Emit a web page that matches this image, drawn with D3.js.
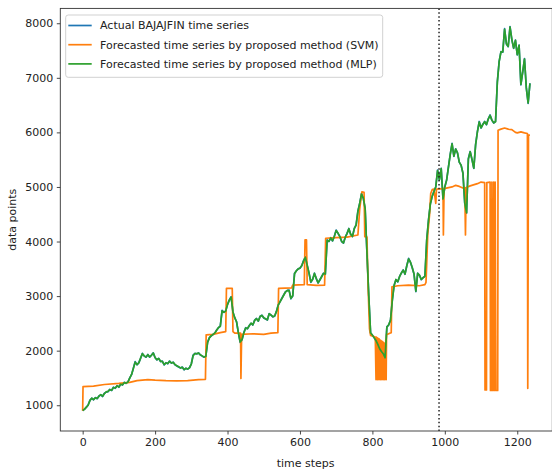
<!DOCTYPE html>
<html>
<head>
<meta charset="utf-8">
<script src="https://cdn.jsdelivr.net/npm/d3@7"></script>
<style>
  html, body { margin: 0; padding: 0; background: #fff; }
  svg { display: block; font-family: "DejaVu Sans", sans-serif; }
</style>
</head>
<body>
<div id="chart"></div>
<script>
// Sampling interval (in time steps) of the actual / MLP series
const sampleEvery = 5;

// Actual BAJAJFIN closing series, one value every 5 time steps (t = 0, 5, ..., 1235)
const actualValues = [
  900, 930, 960, 1005, 1090, 1128, 1100, 1140, 1120, 1170,
  1190, 1160, 1220, 1240, 1250, 1290, 1270, 1330, 1310, 1360,
  1330, 1390, 1370, 1420, 1400, 1430, 1500, 1560, 1680, 1800,
  1740, 1780, 1860, 1950, 1900, 1880, 1930, 1880, 1920, 1960,
  1870, 1830, 1860, 1800, 1810, 1740, 1780, 1760, 1810, 1770,
  1790, 1740, 1720, 1700, 1680, 1700, 1650, 1680, 1660, 1690,
  1760, 1920, 1950, 1940, 1960, 1920, 1900, 1880, 1900, 2160,
  2240, 2270, 2300, 2320, 2380, 2420, 2450, 2740, 2700, 2730,
  2850, 2930, 2990, 2700, 2600, 2530, 2320, 2150, 2200, 2330,
  2420, 2400, 2460, 2500, 2470, 2560, 2590, 2540, 2630, 2650,
  2600, 2580, 2560, 2680, 2650, 2620, 2630, 2720, 2840, 2900,
  2960, 3020, 3080, 3100, 3110, 2950, 3000, 3420, 3460, 3500,
  3510, 3560, 3650, 3720, 3560, 3420, 3250, 3310, 3420, 3320,
  3240, 3300, 3360, 3420, 3400, 4030, 4000, 4070, 4010, 4100,
  4210, 4150, 4090, 4000, 3970, 4080, 4150, 4240, 4130, 4090,
  4240, 4300, 4560, 4700, 4880, 4790, 4600, 3780, 3000, 2320,
  2280, 2240, 2180, 2120, 2030, 1990, 1940, 1860, 2440, 2470,
  2560, 2930, 3200, 3300, 3260, 3360, 3420, 3480, 3400, 3560,
  3690, 3620, 3520, 3400, 3080, 3420, 3380, 3300, 3340, 3360,
  4030, 4400, 4690, 4830, 4920, 5000, 5310, 5130, 5340, 4770,
  5000, 5130, 5370, 5600, 5800, 5560, 5700, 5620, 5450, 5400,
  5250, 4700, 4520, 5520, 5650, 5500, 5340, 5780, 6020, 6200,
  6080, 6150, 6200, 6140, 6250, 6320, 6220, 6170, 6200, 6930,
  7300, 7480, 7470, 7900, 7620, 7570, 7940, 7700, 7540, 7690,
  7420, 7600, 6870, 7100, 7350, 6810, 6530, 6900
];

// MLP forecast, same sampling as the actual series
const mlpValues = [
  905, 925, 965, 1000, 1085, 1130, 1105, 1135, 1125, 1165,
  1195, 1165, 1215, 1245, 1255, 1285, 1275, 1325, 1315, 1355,
  1335, 1385, 1375, 1415, 1405, 1425, 1495, 1565, 1675, 1790,
  1745, 1775, 1865, 1945, 1905, 1885, 1925, 1885, 1915, 1955,
  1875, 1835, 1855, 1805, 1805, 1745, 1775, 1765, 1805, 1775,
  1785, 1745, 1725, 1705, 1685, 1695, 1655, 1675, 1665, 1685,
  1755, 1910, 1945, 1945, 1955, 1925, 1905, 1885, 1895, 2150,
  2235, 2275, 2295, 2325, 2375, 2425, 2445, 2730, 2705, 2725,
  2845, 2925, 2980, 2710, 2605, 2525, 2330, 2160, 2205, 2325,
  2415, 2405, 2455, 2505, 2475, 2555, 2585, 2545, 2625, 2645,
  2605, 2585, 2565, 2675, 2655, 2625, 2635, 2715, 2835, 2895,
  2955, 3015, 3075, 3105, 3100, 2960, 3005, 3410, 3465, 3495,
  3515, 3555, 3645, 3710, 3565, 3425, 3260, 3305, 3415, 3325,
  3245, 3295, 3355, 3415, 3405, 4020, 4005, 4065, 4015, 4095,
  4200, 4155, 4095, 4005, 3975, 4075, 4145, 4235, 4135, 4095,
  4235, 4305, 4550, 4705, 4870, 4795, 4605, 3800, 3010, 2330,
  2285, 2235, 2185, 2115, 2035, 1985, 1945, 1870, 2430, 2475,
  2555, 2920, 3195, 3305, 3265, 3355, 3425, 3475, 3405, 3555,
  3680, 3625, 3525, 3405, 3090, 3415, 3385, 3305, 3335, 3365,
  4020, 4390, 4685, 4825, 4915, 5005, 5300, 5135, 5335, 4780,
  5005, 5125, 5365, 5595, 5790, 5565, 5695, 5625, 5455, 5395,
  5255, 4710, 4530, 5510, 5645, 5505, 5345, 5770, 6010, 6190,
  6085, 6145, 6195, 6145, 6245, 6310, 6225, 6175, 6195, 6920,
  7295, 7475, 7475, 7890, 7625, 7575, 7930, 7705, 7545, 7685,
  7425, 7595, 6880, 7105, 7345, 6820, 6540, 6895
];

// SVM forecast, listed at the time steps where its level changes
const svmSteps = [
  0, 1, 30, 60, 100, 130, 150, 180, 200, 230, 260, 290, 320, 339,
  341, 360, 380, 395, 397, 413, 415, 420, 436, 437, 439, 470, 500, 520, 539,
  541, 577, 580, 612, 614, 618, 620, 645, 668, 671, 700, 730, 760, 765, 771, 777,
  779, 785, 788, 792, 795, 808,
  810, 811, 812, 813, 814, 815, 816, 817, 818, 819, 820, 821, 822, 823, 824,
  825, 826, 827, 828, 829, 830, 831, 832, 833, 834, 835, 836, 837, 838,
  839, 848, 852, 854, 870, 900, 930, 945, 948, 950, 953, 958, 961, 965, 970,
  975, 977, 995, 996, 998, 1020, 1030, 1040, 1050, 1055, 1057, 1059, 1070, 1090,
  1100, 1110, 1111, 1115, 1116, 1125, 1126, 1129, 1130, 1131, 1133, 1135, 1137,
  1139, 1141, 1142, 1146, 1147, 1155, 1165, 1175, 1185, 1195, 1200, 1210, 1220,
  1228, 1229, 1231, 1235
];
const svmValues = [
  900, 1340, 1350, 1380, 1400, 1420, 1450, 1470, 1460, 1450, 1445, 1450, 1470, 1475,
  2290, 2300, 2330, 2350, 3140, 3140, 2350, 2320, 2320, 1490, 2300, 2310, 2300, 2320, 2330,
  3140, 3150, 3200, 3210, 4030, 4030, 3210, 3195, 3200, 4060, 4070, 4080, 4120, 4600, 4910, 4900,
  4090, 4080, 3200, 2400, 2280, 2250,
  1470, 2250, 1475, 2240, 1470, 2230, 1480, 2220, 1470, 2210, 1475, 2200, 1470, 2190, 1480,
  2180, 1470, 2170, 1475, 2160, 1470, 2150, 1480, 2140, 1470, 2130, 1475, 2200, 1470,
  2290, 2320, 2330, 3170, 3190, 3200, 3190, 3210, 3250, 3600, 4150, 4500, 4880, 4950, 4960,
  4700, 4960, 4970, 4120, 4970, 5000, 5030, 5010, 4980, 4990, 4120, 4990, 5020, 5060,
  5090, 5080, 1280, 1280, 5080, 5090, 1270, 1270, 5090, 1270, 1270, 5090, 1270,
  5090, 1270, 1270, 1270, 6040, 6060, 6080, 6060, 6050, 6000, 5990, 6010, 5990,
  5980, 1310, 5950, 5950
];

// Axis ticks and the train/test split marker
const xTicks = [0, 200, 400, 600, 800, 1000, 1200];
const yTicks = [1000, 2000, 3000, 4000, 5000, 6000, 7000, 8000];
const splitStep = 984;

const seriesNames = [
  "Actual BAJAJFIN time series",
  "Forecasted time series by proposed method (SVM)",
  "Forecasted time series by proposed method (MLP)"
];
const seriesColors = ["#1f77b4", "#ff7f0e", "#2ca02c"];

const W = 552, H = 475;
const plot = { left: 60.3, right: 552.3, top: 8.4, bottom: 431 };
const fontSize = "11px";

const svg = d3.select("#chart").append("svg")
  .attr("width", W).attr("height", H);

const x = d3.scaleLinear().domain([-61.75, 1296.75]).range([plot.left, plot.right]);
const y = d3.scaleLinear().domain([528, 8272]).range([plot.bottom, plot.top]);

const actual = actualValues.map((v, i) => ({ t: i * sampleEvery, v }));
const mlp = mlpValues.map((v, i) => ({ t: i * sampleEvery, v }));
const svm = svmSteps.map((t, i) => ({ t, v: svmValues[i] }));

const line = d3.line().x(d => x(d.t)).y(d => y(d.v));

svg.append("defs").append("clipPath").attr("id", "plotClip")
  .append("rect")
  .attr("x", plot.left).attr("y", plot.top)
  .attr("width", plot.right - plot.left).attr("height", plot.bottom - plot.top);

const g = svg.append("g").attr("clip-path", "url(#plotClip)");

[actual, svm, mlp].forEach((data, i) => {
  g.append("path")
    .datum(data)
    .attr("fill", "none")
    .attr("stroke", seriesColors[i])
    .attr("stroke-width", 1.7)
    .attr("stroke-linejoin", "round")
    .attr("d", line);
});

// Train / test split
g.append("line")
  .attr("x1", x(splitStep)).attr("x2", x(splitStep))
  .attr("y1", plot.top).attr("y2", plot.bottom)
  .attr("stroke", "#222")
  .attr("stroke-width", 1.5)
  .attr("stroke-dasharray", "1.5,2.4");

// Axes
const xAxis = svg.append("g")
  .attr("transform", `translate(0,${plot.bottom})`)
  .call(d3.axisBottom(x).tickValues(xTicks).tickSize(3.5).tickPadding(3.5).tickFormat(d3.format("d")));
const yAxis = svg.append("g")
  .attr("transform", `translate(${plot.left},0)`)
  .call(d3.axisLeft(y).tickValues(yTicks).tickSize(3.5).tickPadding(3.5).tickFormat(d3.format("d")));

[xAxis, yAxis].forEach(a => {
  a.select(".domain").remove();
  a.selectAll(".tick line").attr("stroke", "#333").attr("stroke-width", 0.9);
  a.selectAll(".tick text")
    .attr("fill", "#222")
    .style("font-family", "'DejaVu Sans', sans-serif")
    .style("font-size", fontSize);
});

// Frame
svg.append("rect")
  .attr("x", plot.left).attr("y", plot.top)
  .attr("width", plot.right - plot.left).attr("height", plot.bottom - plot.top)
  .attr("fill", "none").attr("stroke", "#333").attr("stroke-width", 0.9);

// Axis titles
svg.append("text")
  .attr("x", (plot.left + 551) / 2).attr("y", 467)
  .attr("text-anchor", "middle")
  .attr("fill", "#222")
  .style("font-size", fontSize)
  .text("time steps");

svg.append("text")
  .attr("transform", `translate(16,${(plot.top + plot.bottom) / 2}) rotate(-90)`)
  .attr("text-anchor", "middle")
  .attr("fill", "#222")
  .style("font-size", fontSize)
  .text("data points");

// Legend
const legend = svg.append("g").attr("transform", "translate(65.7,15)");
legend.append("rect")
  .attr("width", 317).attr("height", 62.3)
  .attr("rx", 2.5)
  .attr("fill", "#fff").attr("fill-opacity", 0.85)
  .attr("stroke", "#ccc").attr("stroke-width", 0.9);

seriesNames.forEach((name, i) => {
  const row = legend.append("g").attr("transform", `translate(0,${10.5 + i * 19.2})`);
  row.append("line")
    .attr("x1", 2.6).attr("x2", 26)
    .attr("stroke", seriesColors[i]).attr("stroke-width", 1.7);
  row.append("text")
    .attr("x", 34.3).attr("dy", "0.35em")
    .attr("fill", "#222")
    .style("font-size", fontSize)
    .text(name);
});
</script>
</body>
</html>
